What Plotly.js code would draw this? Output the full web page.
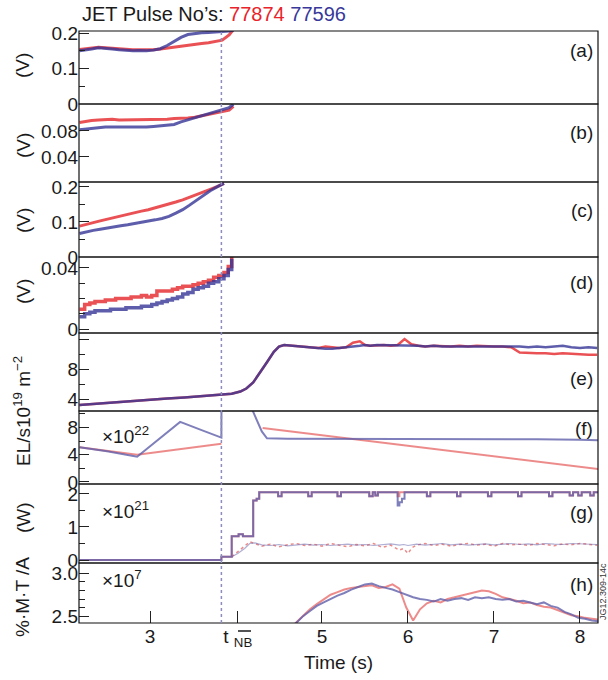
<!DOCTYPE html>
<html><head><meta charset="utf-8">
<script src="https://cdn.plot.ly/plotly-3.0.1.min.js"></script>
<style>html,body{margin:0;padding:0;background:#fff}#chart{width:608px;height:680px}</style>
</head><body><div id="chart"></div>
<script>
// ---------- data ----------
const pulseRed = "77874";
const pulseBlue = "77596";
const xTickVals = [3, 4.02, 5, 6, 7, 8];
const xTickText = ["3", "t <sub>NB</sub>", "5", "6", "7", "8"];
const tDashed = 3.83;

// (a)
const a_t = [2.18,2.25,2.32,2.40,2.48,2.56,2.64,2.72,2.80,2.88,2.96,3.04,3.12,3.20,3.28,3.36,3.44,3.52,3.60,3.68,3.76,3.84,3.92,3.97];
const a_blue = [0.150,0.152,0.155,0.159,0.158,0.155,0.153,0.151,0.150,0.151,0.150,0.152,0.156,0.165,0.176,0.188,0.196,0.199,0.201,0.202,0.203,0.204,0.206,0.208];
const a_red = [0.154,0.156,0.158,0.160,0.159,0.157,0.155,0.154,0.153,0.153,0.152,0.153,0.155,0.158,0.161,0.164,0.166,0.168,0.171,0.173,0.176,0.180,0.195,0.210];
// (b)
const b_t = [2.18,2.25,2.32,2.40,2.48,2.56,2.64,2.72,2.80,2.88,2.96,3.04,3.12,3.20,3.28,3.36,3.44,3.52,3.60,3.68,3.76,3.84,3.92,3.97];
const b_blue = [0.082,0.083,0.084,0.085,0.086,0.086,0.086,0.085,0.085,0.085,0.086,0.087,0.088,0.089,0.090,0.094,0.097,0.100,0.103,0.106,0.109,0.112,0.116,0.121];
const b_red = [0.093,0.095,0.096,0.097,0.098,0.098,0.097,0.097,0.097,0.097,0.097,0.097,0.098,0.098,0.099,0.099,0.100,0.101,0.103,0.105,0.107,0.109,0.112,0.118];
// (c)
const c_t = [2.18,2.26,2.34,2.42,2.50,2.58,2.66,2.74,2.82,2.90,2.98,3.06,3.14,3.22,3.30,3.38,3.46,3.54,3.62,3.70,3.78,3.86];
const c_red = [0.088,0.094,0.098,0.103,0.108,0.112,0.117,0.121,0.126,0.131,0.135,0.140,0.146,0.151,0.157,0.163,0.170,0.177,0.185,0.193,0.201,0.210];
const c_blue = [0.067,0.072,0.076,0.079,0.083,0.086,0.089,0.092,0.095,0.098,0.102,0.106,0.110,0.116,0.125,0.135,0.148,0.162,0.176,0.189,0.200,0.210];
// (d)
const d_t = [2.18,2.24,2.30,2.36,2.42,2.48,2.54,2.60,2.66,2.72,2.78,2.84,2.90,2.96,3.02,3.08,3.14,3.20,3.26,3.32,3.38,3.44,3.50,3.56,3.62,3.68,3.74,3.80,3.86,3.91,3.95];
const d_red = [0.013,0.016,0.017,0.018,0.018,0.019,0.019,0.020,0.020,0.020,0.021,0.021,0.022,0.021,0.022,0.025,0.025,0.025,0.026,0.027,0.028,0.028,0.029,0.030,0.031,0.032,0.034,0.035,0.037,0.041,0.048];
const d_blue = [0.008,0.010,0.011,0.012,0.012,0.012,0.013,0.013,0.013,0.014,0.014,0.014,0.015,0.015,0.016,0.017,0.018,0.019,0.020,0.021,0.023,0.024,0.026,0.027,0.028,0.030,0.031,0.033,0.035,0.039,0.046];
// (e)
const e_t = [2.18,2.4,2.6,2.8,3.0,3.2,3.4,3.6,3.8,3.95,4.05,4.12,4.2,4.28,4.36,4.44,4.5,4.56,4.64,4.72,4.8,4.88,4.96,5.04,5.12,5.2,5.28,5.36,5.44,5.5,5.56,5.64,5.72,5.8,5.88,5.96,6.04,6.12,6.2,6.3,6.4,6.5,6.6,6.7,6.8,6.9,7.0,7.1,7.2,7.3,7.4,7.5,7.6,7.7,7.8,7.9,8.0,8.1,8.2];
const e_blue = [3.3,3.5,3.7,3.85,4.0,4.15,4.3,4.45,4.6,4.8,5.1,5.5,6.3,7.6,9.0,10.4,11.1,11.3,11.2,11.1,11.0,10.9,10.8,10.8,10.8,10.9,10.9,11.0,11.2,11.3,11.2,11.3,11.3,11.2,11.2,11.3,11.2,11.2,11.1,11.2,11.1,11.1,11.2,11.1,11.2,11.1,11.1,11.2,11.1,11.1,11.0,11.1,11.0,11.1,11.2,11.0,10.9,11.0,10.9];
const e_red = [3.3,3.5,3.7,3.85,4.0,4.15,4.3,4.45,4.6,4.8,5.1,5.5,6.3,7.6,9.0,10.4,11.1,11.3,11.2,11.1,11.0,10.9,10.9,11.1,11.0,10.9,11.0,11.6,11.8,11.3,11.2,11.3,11.3,11.2,11.3,12.1,11.4,11.2,11.1,11.2,11.1,11.1,11.2,11.1,11.2,11.1,11.1,11.1,11.0,10.3,10.2,10.2,10.2,10.1,10.2,10.1,10.0,10.0,10.0];
// (f)
const f_blue_t = [2.18,2.5,2.85,3.1,3.35,3.6,3.83,3.831,4.14,4.30,4.36,4.6,5.0,5.5,6.0,6.5,7.0,7.5,8.0,8.22];
const f_blue = [5.1,4.5,3.7,6.2,8.8,7.6,6.5,13,12,7.4,6.4,6.35,6.35,6.35,6.3,6.3,6.3,6.25,6.2,6.1];
const f_red_t = [2.18,2.85,3.83,3.9,4.31,8.22];
const f_red = [5.1,4.0,5.6,null,7.9,1.9];
// (g)
const g_t = [2.18,3.83,3.95,4.03,4.08,4.2,4.24,4.27,4.49,4.53,4.84,4.88,5.18,5.22,5.55,5.59,5.62,5.65,5.88,5.9,5.93,5.96,6.22,6.26,6.57,6.61,6.93,6.97,7.28,7.32,7.64,7.68,7.88,7.92,7.98,8.02,8.12,8.16,8.22];
const g_blue = [0.0,0.1,0.72,0.78,0.72,1.8,1.85,2.05,1.93,2.05,1.93,2.05,1.93,2.05,1.93,2.05,1.95,2.05,1.65,1.75,1.85,2.05,1.93,2.05,1.93,2.05,1.93,2.05,1.93,2.05,1.93,2.05,1.95,2.05,1.95,2.05,1.95,2.05,2.05];
const g_red = [0.0,0.1,0.72,0.78,0.72,1.8,1.85,2.05,1.93,2.05,1.93,2.05,1.93,2.05,1.93,2.05,1.95,2.05,1.93,2.05,2.05,2.05,1.93,2.05,1.93,2.05,1.93,2.05,1.93,2.05,1.93,2.05,1.95,2.05,1.95,2.05,1.95,2.05,2.05];
const g_low_t = [3.95,4.02,4.1,4.16,4.22,4.3,4.4,4.5,4.6,4.7,4.8,4.9,5.0,5.1,5.2,5.3,5.4,5.5,5.6,5.7,5.8,5.9,5.95,6.0,6.05,6.1,6.2,6.3,6.4,6.5,6.6,6.7,6.8,6.9,7.0,7.1,7.2,7.3,7.4,7.5,7.6,7.7,7.8,7.9,8.0,8.1,8.2];
const g_red_low = [0.1,0.25,0.4,0.55,0.5,0.42,0.48,0.4,0.46,0.5,0.44,0.48,0.42,0.5,0.45,0.4,0.47,0.43,0.5,0.38,0.45,0.3,0.35,0.2,0.38,0.45,0.5,0.44,0.48,0.42,0.47,0.5,0.45,0.48,0.42,0.5,0.46,0.48,0.44,0.5,0.47,0.43,0.49,0.46,0.5,0.48,0.45];
const g_blue_low = [0.1,0.2,0.35,0.5,0.52,0.46,0.44,0.47,0.43,0.46,0.48,0.45,0.47,0.44,0.46,0.48,0.45,0.47,0.44,0.46,0.49,0.45,0.47,0.44,0.46,0.48,0.45,0.47,0.5,0.46,0.48,0.45,0.47,0.49,0.46,0.48,0.5,0.47,0.49,0.46,0.5,0.48,0.47,0.5,0.49,0.48,0.47];
// (h)
const h_t = [4.6,4.7,4.78,4.86,4.94,5.02,5.1,5.18,5.26,5.34,5.42,5.5,5.58,5.66,5.74,5.82,5.9,5.98,6.06,6.14,6.22,6.3,6.38,6.46,6.54,6.62,6.7,6.78,6.86,6.94,7.02,7.1,7.18,7.26,7.34,7.42,7.5,7.58,7.66,7.74,7.82,7.9,7.98,8.06,8.14,8.22];
const h_blue = [2.32,2.42,2.50,2.56,2.62,2.66,2.70,2.74,2.77,2.81,2.84,2.87,2.88,2.85,2.83,2.81,2.78,2.75,2.72,2.70,2.69,2.67,2.70,2.68,2.70,2.71,2.69,2.72,2.71,2.72,2.70,2.69,2.70,2.67,2.68,2.66,2.64,2.66,2.62,2.60,2.55,2.52,2.48,2.47,2.45,2.44];
const h_red = [2.33,2.43,2.51,2.58,2.64,2.70,2.75,2.78,2.81,2.83,2.84,2.85,2.86,2.83,2.84,2.87,2.82,2.60,2.45,2.58,2.65,2.68,2.66,2.70,2.72,2.74,2.76,2.78,2.80,2.79,2.76,2.72,2.70,2.68,2.65,2.66,2.63,2.61,2.60,2.57,2.54,2.51,2.50,2.48,2.47,2.46];

// ---------- layout helpers ----------
const L = 79, R = 598, T = 31, B = 623;
const bounds = [31, 104, 182, 257, 333, 411, 484, 563, 623];
const xp = px => (px - L) / (R - L);
const yp = py => (B - py) / (B - T);
const FONT = "Liberation Sans, Arial, Helvetica, sans-serif";
const RED = "rgb(228,38,42)", BLUE = "rgb(52,52,150)";
const RED2 = "rgb(232,110,110)", BLUE2 = "rgb(95,95,170)";

function tr(x, y, ax, color, w, opts) {
  return Object.assign({x: x, y: y, xaxis: "x", yaxis: ax, type: "scatter", mode: "lines",
    line: {color: color, width: w}, opacity: 0.8, hoverinfo: "skip", showlegend: false, connectgaps: false}, opts || {});
}
const data = [
  tr(a_t, a_red, "y", RED, 3), tr(a_t, a_blue, "y", BLUE, 3),
  tr(b_t, b_red, "y2", RED, 3), tr(b_t, b_blue, "y2", BLUE, 3),
  tr(c_t, c_red, "y3", RED, 3), tr(c_t, c_blue, "y3", BLUE, 3),
  tr(d_t, d_red, "y4", RED, 3.5, {line: {color: RED, width: 3.5, shape: "hv"}}),
  tr(d_t, d_blue, "y4", BLUE, 3.5, {line: {color: BLUE, width: 3.5, shape: "hv"}}),
  tr(e_t, e_red, "y5", RED, 2.5), tr(e_t, e_blue, "y5", BLUE, 2.5),
  tr(f_red_t, f_red, "y6", RED2, 2), tr(f_blue_t, f_blue, "y6", BLUE2, 2),
  tr(g_low_t, g_red_low, "y7", RED2, 1.5, {line: {color: RED2, width: 1.5, dash: "dot"}}),
  tr(g_low_t, g_blue_low, "y7", BLUE2, 1.2, {opacity: 0.5}),
  tr(g_t, g_red, "y7", RED2, 2, {line: {color: RED2, width: 2, shape: "hv"}}),
  tr(g_t, g_blue, "y7", BLUE2, 2, {line: {color: BLUE2, width: 2, shape: "hv"}}),
  tr(h_t, h_red, "y8", RED2, 2), tr(h_t, h_blue, "y8", BLUE2, 2)
];

function yax(i, range, tickvals, ticktext, minorvals) {
  return {
    domain: [yp(bounds[i + 1]), yp(bounds[i])], range: range, anchor: "x",
    tickmode: "array", tickvals: tickvals, ticktext: ticktext,
    ticks: "inside", ticklen: 10, tickwidth: 1, tickcolor: "#222",
    minor: {tickmode: "array", tickvals: minorvals, ticks: "inside", ticklen: 6, tickwidth: 1, tickcolor: "#222"},
    tickfont: {family: FONT, size: 19, color: "#1a1a1a"},
    showgrid: false, zeroline: false, showline: false, fixedrange: true
  };
}

const layout = {
  width: 608, height: 680, margin: {l: L, r: 608 - R, t: T, b: 680 - B},
  paper_bgcolor: "#fff", plot_bgcolor: "#fff", showlegend: false,
  font: {family: FONT, size: 19, color: "#1a1a1a"},
  xaxis: {domain: [0, 1], anchor: "y8", range: [2.174, 8.21], tickmode: "array",
    tickvals: xTickVals, ticktext: xTickText, ticks: "inside", ticklen: 12, tickcolor: "#222",
    tickfont: {family: FONT, size: 19}, showgrid: false, zeroline: false, showline: false,
    title: {text: "Time (s)", font: {family: FONT, size: 19}, standoff: 6}},
  yaxis: yax(0, [0, 0.206], [0, 0.1, 0.2], ["0", "0.1", "0.2"], [0.05, 0.15]),
  yaxis2: yax(1, [0.0015, 0.1215], [0.04, 0.08], ["0.04", "0.08"], []),
  yaxis3: yax(2, [0, 0.214], [0, 0.1, 0.2], ["0", "0.1", "0.2"], [0.05, 0.15]),
  yaxis4: yax(3, [-0.0026, 0.0472], [0, 0.04], ["0", "0.04"], [0.01, 0.02, 0.03]),
  yaxis5: yax(4, [2.5, 12.9], [4, 8, 12], ["4", "8", ""], [6, 10]),
  yaxis6: yax(5, [-0.3, 10.4], [0, 4, 8], ["0", "4", "8"], [2, 6, 10]),
  yaxis7: yax(6, [-0.09, 2.3], [0, 1, 2], ["0", "1", "2"], [0.5, 1.5]),
  yaxis8: yax(7, [2.42, 3.12], [2.5, 3.0], ["2.5", "3.0"], [2.6, 2.7, 2.8, 2.9]),
  shapes: [],
  annotations: []
};

for (let i = 0; i < 8; i++) {
  layout.shapes.push({type: "rect", xref: "paper", yref: "paper", x0: 0, x1: 1,
    y0: yp(bounds[i + 1]), y1: yp(bounds[i]), line: {color: "#111", width: 1.2}, layer: "above"});
}
layout.shapes.push({type: "line", xref: "x", yref: "paper", x0: tDashed, x1: tDashed, y0: 0, y1: 1,
  line: {color: "rgb(140,140,190)", width: 1.5, dash: "dot"}, layer: "above"});
// overbar on the "NB" of the t_NB tick label
layout.shapes.push({type: "line", xref: "paper", yref: "paper", x0: xp(238), x1: xp(251), y0: yp(631), y1: yp(631),
  line: {color: "#1a1a1a", width: 1.5}});

function ann(text, xpx, ypx, o) {
  layout.annotations.push(Object.assign({text: text, xref: "paper", yref: "paper", x: xp(xpx), y: yp(ypx),
    showarrow: false, xanchor: "center", yanchor: "middle", font: {family: FONT, size: 19, color: "#1a1a1a"}}, o || {}));
}
ann("JET Pulse No’s: <span style='color:rgb(232,35,43)'>" + pulseRed + "</span> <span style='color:rgb(56,56,154)'>" + pulseBlue + "</span>",
  80, 14, {xanchor: "left", font: {family: FONT, size: 20, color: "#1a1a1a"}});
[[66], [146], [221], [292]].forEach(p => ann("(V)", 23, p[0], {textangle: -90}));
ann("EL/s10<sup>19</sup> m<sup>−2</sup>", 22, 411, {textangle: -90});
ann("(W)", 23, 518, {textangle: -90});
ann("%·M·T /A", 22, 597, {textangle: -90});
const letters = ["(a)", "(b)", "(c)", "(d)", "(e)", "(f)", "(g)", "(h)"];
const letterY = [50, 132, 210, 282, 378, 428, 512, 584];
letters.forEach((s, i) => ann(s, 595, letterY[i], {xanchor: "right"}));
ann("×10<sup>22</sup>", 100, 435, {xanchor: "left"});
ann("×10<sup>21</sup>", 100, 510, {xanchor: "left"});
ann("×10<sup>7</sup>", 100, 579, {xanchor: "left"});
ann("JG12.309-14c", 603, 592, {textangle: -90, font: {family: FONT, size: 9, color: "#333"}});

Plotly.newPlot("chart", data, layout, {displayModeBar: false, staticPlot: true});
</script>
</body></html>
